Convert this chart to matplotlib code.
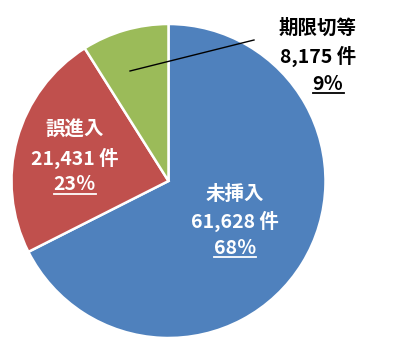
import matplotlib
matplotlib.use("Agg")
import matplotlib.pyplot as plt
from matplotlib.lines import Line2D

plt.rcParams['font.family'] = ['Noto Sans CJK JP', 'DejaVu Sans']

categories = ['未挿入', '誤進入', '期限切等']
counts = [61628, 21431, 8175]
count_labels = ['61,628 件', '21,431 件', '8,175 件']
pct_labels = ['68％', '23％', '9％']
colors = ['#4F81BD', '#C0504D', '#9BBB59']

W, H = 395, 350
fig = plt.figure(figsize=(W / 100, H / 100), dpi=100)
cx, cy, r = 168.5, 181, 157
ax = fig.add_axes([(cx - r) / W, (H - cy - r) / H, 2 * r / W, 2 * r / H])
ax.pie(counts, colors=colors, startangle=90, counterclock=False,
       wedgeprops=dict(edgecolor='white', linewidth=1.8))
ax.set_xlim(-1, 1)
ax.set_ylim(-1, 1)
ax.set_aspect('equal')
ax.axis('off')


def d(px, py):
    return (px - cx) / r, (cy - py) / r


# label pixel positions (center x, line y's)
label_pos = [
    (235, [195, 221, 248], 'white'),
    (75, [130, 158, 185], 'white'),
    (318, [28, 56, 84], 'black'),
]
fs = 14
pct_texts = []
for i, (px, ys, col) in enumerate(label_pos):
    ax.text(*d(px, ys[0]), categories[i], ha='center', va='center',
            fontsize=fs, fontweight='bold', color=col)
    ax.text(*d(px, ys[1]), count_labels[i], ha='center', va='center',
            fontsize=fs, fontweight='bold', color=col)
    ppx = px + 10 if i == 2 else px
    t = ax.text(*d(ppx, ys[2]), pct_labels[i], ha='center', va='center',
                fontsize=fs, fontweight='bold', color=col)
    pct_texts.append((t, col))

# leader line for small slice
x0, y0 = d(130, 71)
x1, y1 = d(254, 40)
ax.plot([x0, x1], [y0, y1], color='black', linewidth=1.0)

fig.canvas.draw()
renderer = fig.canvas.get_renderer()
for t, col in pct_texts:
    bb = t.get_window_extent(renderer)
    yy = (bb.y0 + 1) / H
    fig.add_artist(Line2D([bb.x0 / W, bb.x1 / W], [yy, yy],
                          transform=fig.transFigure, color=col, linewidth=1.3))

fig.savefig('out.png', dpi=100)
